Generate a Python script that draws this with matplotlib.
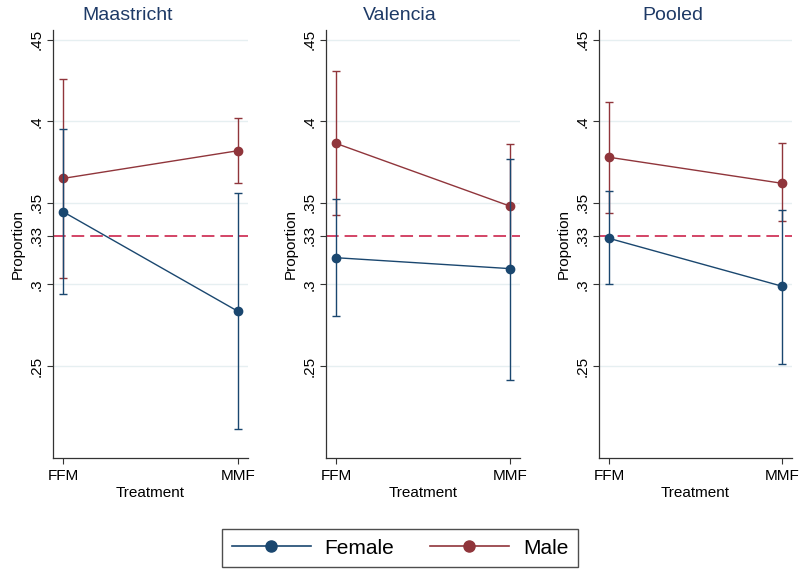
import matplotlib
matplotlib.use("Agg")
import matplotlib.pyplot as plt
from matplotlib.lines import Line2D
import numpy as np

plt.rcParams['font.family'] = ['Liberation Sans', 'DejaVu Sans']

# data
panels = ['Maastricht', 'Valencia', 'Pooled']
treatments = ['FFM', 'MMF']

female_mean = [[0.3446, 0.2835], [0.3164, 0.3097], [0.3283, 0.2989]]
female_lo = [[0.294, 0.2116], [0.2805, 0.2417], [0.300, 0.2515]]
female_hi = [[0.395, 0.356], [0.3526, 0.377], [0.357, 0.3458]]

male_mean = [[0.365, 0.382], [0.3865, 0.348], [0.378, 0.362]]
male_lo = [[0.304, 0.362], [0.3428, 0.310], [0.344, 0.3387]]
male_hi = [[0.426, 0.402], [0.4306, 0.3863], [0.412, 0.387]]

ref_line = 0.33
yticks = [0.25, 0.3, 0.33, 0.35, 0.4, 0.45]
ytick_labels = ['.25', '.3', '.33', '.35', '.4', '.45']
grid_vals = [0.25, 0.3, 0.35, 0.4, 0.45]

navy = '#1a476f'
maroon = '#90353b'
ref_col = '#d0365a'
title_col = '#1e3a66'

W, H = 799, 569
fig = plt.figure(figsize=(W / 100, H / 100), dpi=100)

lefts = [53, 326, 599]
widths = [195, 194, 193]
top_px, bot_px = 30, 458

x = np.arange(len(treatments))
for i, name in enumerate(panels):
    ax = fig.add_axes([lefts[i] / W, 1 - bot_px / H, widths[i] / W, (bot_px - top_px) / H])
    for g in grid_vals:
        ax.axhline(g, color='#e6eff1', lw=1.0, zorder=0)
    ax.axhline(ref_line, color=ref_col, lw=1.3, ls=(0, (7, 3.3)), zorder=1)

    for mean, lo, hi, col, z in [(male_mean[i], male_lo[i], male_hi[i], maroon, 2),
                                 (female_mean[i], female_lo[i], female_hi[i], navy, 3)]:
        mean = np.array(mean)
        err = [mean - np.array(lo), np.array(hi) - mean]
        ax.errorbar(x, mean, yerr=err, color=col, lw=1.0, elinewidth=1.0,
                    capsize=3, capthick=1.0, marker='o', ms=6, zorder=z)

    ax.set_xlim(-0.057, 1.057)
    ax.set_ylim(0.1936, 0.456)
    ax.set_xticks(x)
    ax.set_xticklabels(treatments, fontsize=11)
    ax.set_yticks(yticks)
    ax.set_yticklabels(ytick_labels, fontsize=11, rotation=90, va='center')
    ax.tick_params(axis='both', direction='out', length=4.5, width=0.8, color='#333333')
    ax.tick_params(axis='y', pad=2)
    for s in ['top', 'right']:
        ax.spines[s].set_visible(False)
    for s in ['left', 'bottom']:
        ax.spines[s].set_color('#333333')
        ax.spines[s].set_linewidth(0.9)
    ax.set_xlabel('Treatment', fontsize=11, labelpad=2)
    ax.set_ylabel('Proportion', fontsize=11, labelpad=4)
    ax.text(0.382, 1.0 + 14 / (bot_px - top_px), name, transform=ax.transAxes,
            ha='center', va='center', fontsize=14, color=title_col)

handles = [Line2D([0], [0], color=navy, marker='o', ms=8, lw=1.2),
           Line2D([0], [0], color=maroon, marker='o', ms=8, lw=1.2)]
leg = fig.legend(handles, ['Female', 'Male'], loc='center', ncol=2,
                 bbox_to_anchor=(400 / W, 1 - 548 / H), fontsize=15,
                 frameon=True, fancybox=False, edgecolor='#222222',
                 handlelength=3.8, handletextpad=0.67, columnspacing=1.7,
                 borderpad=0.45)
leg.get_frame().set_linewidth(1.0)

fig.savefig('out.png', dpi=100)
